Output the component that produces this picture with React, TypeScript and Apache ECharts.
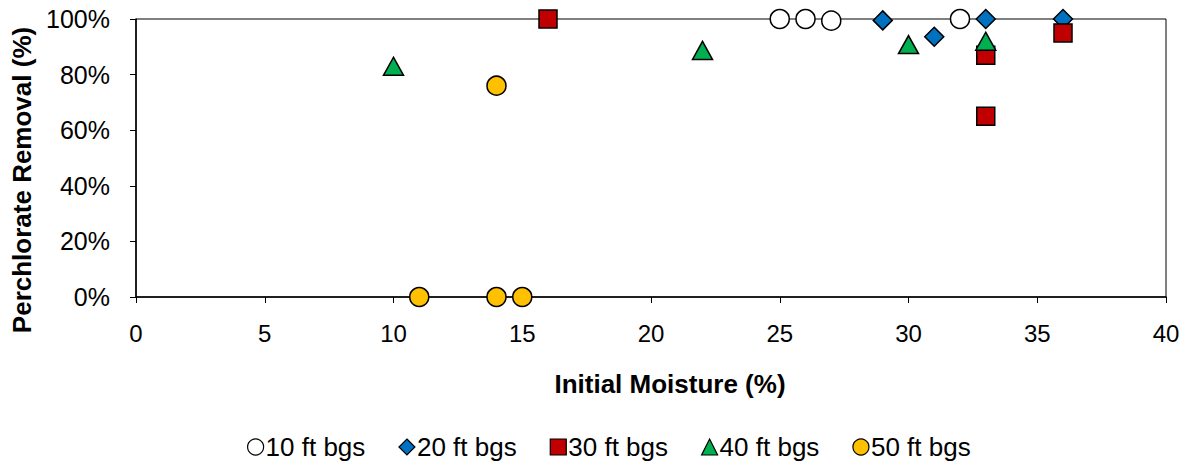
import React, { useEffect, useRef } from "react";
import * as echarts from "echarts";

const seriesNames = ["10 ft bgs", "20 ft bgs", "30 ft bgs", "40 ft bgs", "50 ft bgs"];
const s10: number[][] = [[25, 100], [26, 100], [27, 99.4], [32, 100]];
const s20: number[][] = [[29, 99.5], [31, 93.6], [33, 100], [36, 100]];
const s30: number[][] = [[16, 100], [33, 87], [33, 65], [36, 95]];
const s40: number[][] = [[10, 83], [22, 88.7], [30, 90.8], [33, 92]];
const s50: number[][] = [[14, 76], [11, 0], [14, 0], [15, 0]];
const colors = ["#FFFFFF", "#0070C0", "#C00000", "#00B050", "#FFC000"];
const symbols = ["circle", "diamond", "rect", "triangle", "circle"];
const sizes: any[] = [19, 19, [18, 18], [20, 18], 19];
const dataSets = [s10, s20, s30, s40, s50];

export default function App() {
  const ref = useRef<HTMLDivElement>(null);
  useEffect(() => {
    document.body.style.margin = "0";
    const chart = echarts.init(ref.current!, null, { renderer: "svg" });
    const font = "Arial, 'Liberation Sans', sans-serif";
    chart.setOption({
      animation: false,
      textStyle: { fontFamily: font },
      grid: {
        left: 136,
        right: 23,
        top: 19,
        bottom: 171,
        show: true,
        borderColor: "#000",
        borderWidth: 1,
        backgroundColor: "transparent",
      },
      legend: {
        top: 429,
        left: 242,
        itemWidth: 16,
        itemHeight: 16,
        itemGap: 33,
        textStyle: { fontSize: 26, color: "#000", fontFamily: font, padding: [0, 0, 0, -3] },
        data: seriesNames.map((n, i) => ({
          name: n,
          icon: symbols[i],
          itemStyle: { color: colors[i], borderColor: "#000", borderWidth: 1.2 },
        })),
      },
      xAxis: {
        type: "value",
        min: 0,
        max: 40,
        interval: 5,
        name: "Initial Moisture (%)",
        nameLocation: "middle",
        nameGap: 74,
        nameTextStyle: {
          fontSize: 26,
          fontWeight: "bold",
          color: "#000",
          fontFamily: font,
          padding: [0, 0, 0, 38],
        },
        axisLine: { show: true, lineStyle: { color: "#000", width: 1.5 } },
        axisTick: { show: true, length: 6, lineStyle: { color: "#000" } },
        axisLabel: { fontSize: 24, color: "#000", margin: 24, fontFamily: font },
        splitLine: { show: false },
      },
      yAxis: {
        type: "value",
        min: 0,
        max: 100,
        interval: 20,
        name: "Perchlorate Removal (%)",
        nameLocation: "middle",
        nameGap: 100,
        nameTextStyle: {
          fontSize: 26,
          fontWeight: "bold",
          color: "#000",
          fontFamily: font,
          padding: [0, 44, 0, 0],
        },
        axisLine: { show: true, lineStyle: { color: "#000", width: 1.5 } },
        axisTick: { show: true, length: 6, lineStyle: { color: "#000" } },
        axisLabel: { fontSize: 25, color: "#000", margin: 26, formatter: "{value}%", fontFamily: font },
        splitLine: { show: false },
      },
      series: seriesNames.map((n, i) => ({
        name: n,
        type: "scatter",
        symbol: symbols[i],
        symbolSize: sizes[i],
        data: dataSets[i],
        clip: false,
        itemStyle: { color: colors[i], borderColor: "#000", borderWidth: 1.5, opacity: 1 },
      })),
    });
    return () => chart.dispose();
  }, []);
  return <div ref={ref} style={{ width: 1189, height: 468 }} />;
}
